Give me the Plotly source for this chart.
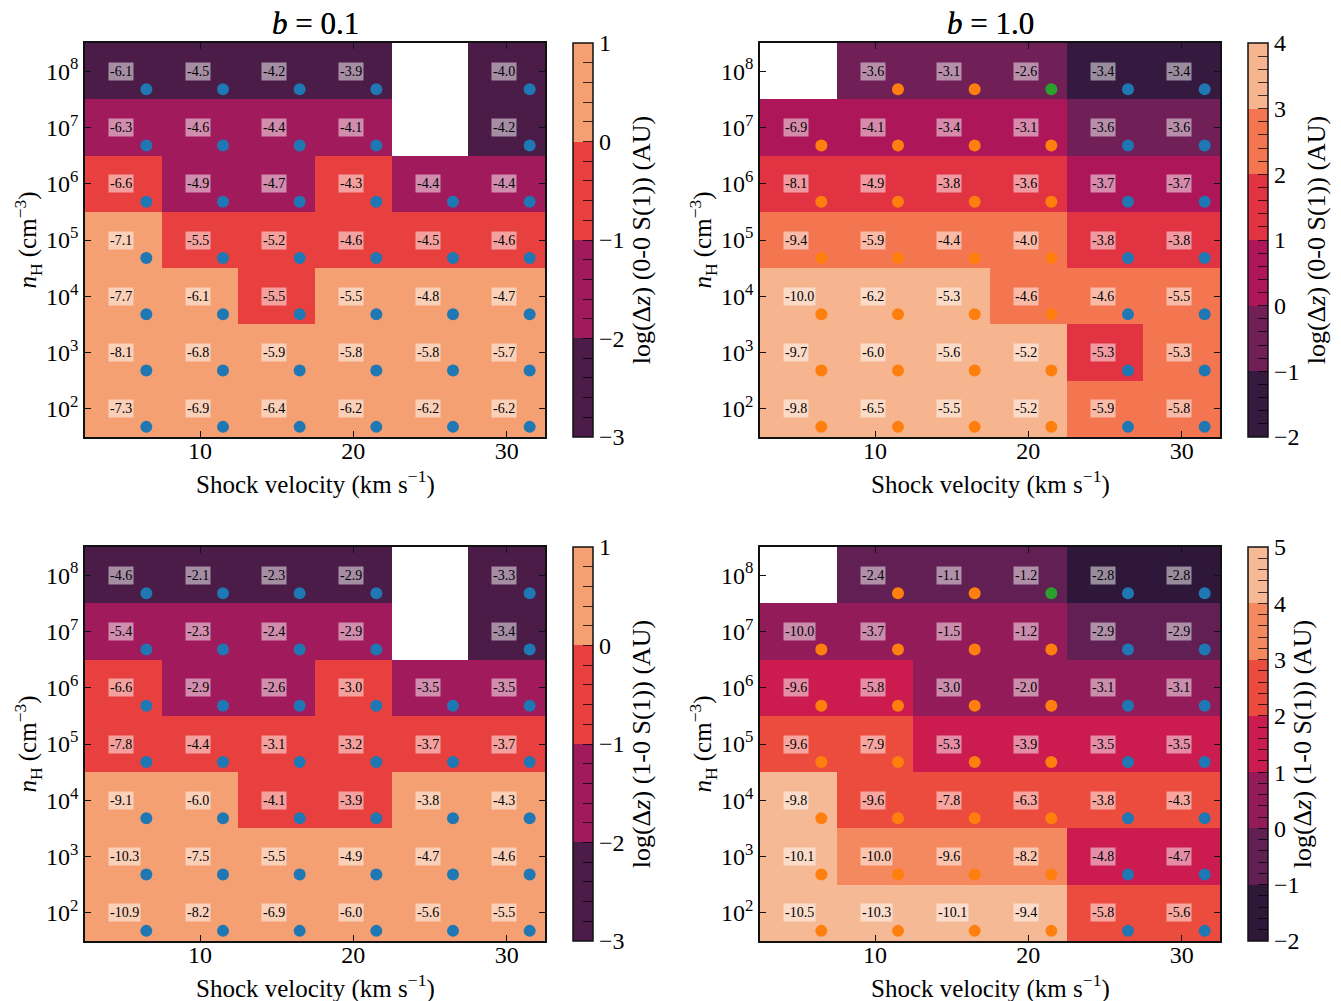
import numpy as np
import plotly.graph_objects as go

W, H = 1341, 1001

# ---------------- data ----------------
velocities = [5, 10, 15, 20, 25, 30]              # km/s (cell centres)
log_nH = [8, 7, 6, 5, 4, 3, 2]                    # rows, top to bottom
x_ticks = [10, 20, 30]
y_tick_labels = ["10<sup>%d</sup>" % k for k in log_nH]

# annotation values (rows top->bottom: nH=1e8 ... 1e2)
ann_00_b01 = [
    [-6.1, -4.5, -4.2, -3.9, None, -4.0],
    [-6.3, -4.6, -4.4, -4.1, None, -4.2],
    [-6.6, -4.9, -4.7, -4.3, -4.4, -4.4],
    [-7.1, -5.5, -5.2, -4.6, -4.5, -4.6],
    [-7.7, -6.1, -5.5, -5.5, -4.8, -4.7],
    [-8.1, -6.8, -5.9, -5.8, -5.8, -5.7],
    [-7.3, -6.9, -6.4, -6.2, -6.2, -6.2],
]
ann_00_b10 = [
    [None, -3.6, -3.1, -2.6, -3.4, -3.4],
    [-6.9, -4.1, -3.4, -3.1, -3.6, -3.6],
    [-8.1, -4.9, -3.8, -3.6, -3.7, -3.7],
    [-9.4, -5.9, -4.4, -4.0, -3.8, -3.8],
    [-10.0, -6.2, -5.3, -4.6, -4.6, -5.5],
    [-9.7, -6.0, -5.6, -5.2, -5.3, -5.3],
    [-9.8, -6.5, -5.5, -5.2, -5.9, -5.8],
]
ann_10_b01 = [
    [-4.6, -2.1, -2.3, -2.9, None, -3.3],
    [-5.4, -2.3, -2.4, -2.9, None, -3.4],
    [-6.6, -2.9, -2.6, -3.0, -3.5, -3.5],
    [-7.8, -4.4, -3.1, -3.2, -3.7, -3.7],
    [-9.1, -6.0, -4.1, -3.9, -3.8, -4.3],
    [-10.3, -7.5, -5.5, -4.9, -4.7, -4.6],
    [-10.9, -8.2, -6.9, -6.0, -5.6, -5.5],
]
ann_10_b10 = [
    [None, -2.4, -1.1, -1.2, -2.8, -2.8],
    [-10.0, -3.7, -1.5, -1.2, -2.9, -2.9],
    [-9.6, -5.8, -3.0, -2.0, -3.1, -3.1],
    [-9.6, -7.9, -5.3, -3.9, -3.5, -3.5],
    [-9.8, -9.6, -7.8, -6.3, -3.8, -4.3],
    [-10.1, -10.0, -9.6, -8.2, -4.8, -4.7],
    [-10.5, -10.3, -10.1, -9.4, -5.8, -5.6],
]

# log(dz) colour values (binned)
dz_00_b01 = [
    [-2.5, -2.5, -2.5, -2.5, None, -2.5],
    [-1.5, -1.5, -1.5, -1.5, None, -2.5],
    [-0.5, -1.5, -1.5, -0.5, -1.5, -1.5],
    [0.5, -0.5, -0.5, -0.5, -0.5, -0.5],
    [0.5, 0.5, -0.5, 0.5, 0.5, 0.5],
    [0.5, 0.5, 0.5, 0.5, 0.5, 0.5],
    [0.5, 0.5, 0.5, 0.5, 0.5, 0.5],
]
dz_00_b10 = [
    [None, -0.5, -0.5, -0.5, -1.5, -1.5],
    [0.5, 0.5, 0.5, 0.5, -0.5, -0.5],
    [1.5, 1.5, 1.5, 1.5, 0.5, 0.5],
    [2.5, 2.5, 2.5, 2.5, 1.5, 1.5],
    [3.5, 3.5, 3.5, 2.5, 2.5, 2.5],
    [3.5, 3.5, 3.5, 3.5, 1.5, 2.5],
    [3.5, 3.5, 3.5, 3.5, 2.5, 2.5],
]
dz_10_b01 = [
    [-2.5, -2.5, -2.5, -2.5, None, -2.5],
    [-1.5, -1.5, -1.5, -1.5, None, -2.5],
    [-0.5, -1.5, -1.5, -0.5, -1.5, -1.5],
    [-0.5, -0.5, -0.5, -0.5, -0.5, -0.5],
    [0.5, 0.5, -0.5, -0.5, 0.5, 0.5],
    [0.5, 0.5, 0.5, 0.5, 0.5, 0.5],
    [0.5, 0.5, 0.5, 0.5, 0.5, 0.5],
]
dz_10_b10 = [
    [None, -0.5, -0.5, -0.5, -1.5, -1.5],
    [0.5, 0.5, 0.5, 0.5, -0.5, -0.5],
    [1.5, 1.5, 0.5, 0.5, 0.5, 0.5],
    [2.5, 2.5, 1.5, 1.5, 1.5, 1.5],
    [4.5, 2.5, 2.5, 2.5, 2.5, 2.5],
    [4.5, 3.5, 3.5, 3.5, 1.5, 1.5],
    [4.5, 4.5, 4.5, 4.5, 2.5, 2.5],
]

# marker colour class per cell: 'o' orange, 'b' blue, 'g' green, '' none
mk_b01 = [
    ["b", "b", "b", "b", "", "b"],
    ["b", "b", "b", "b", "", "b"],
] + [["b"] * 6 for _ in range(5)]
mk_b10 = [
    ["", "o", "o", "g", "b", "b"],
] + [["o", "o", "o", "o", "b", "b"] for _ in range(6)]

panels = [
    dict(title="<i>b</i> = 0.1", ann=ann_00_b01, dz=dz_00_b01, mk=mk_b01,
         zr=(-3, 1), cbt="log(Δ<i>z</i>) (0-0 S(1)) (AU)",
         colors=["#4a1c47", "#a11a5b", "#e8403e", "#f4a072"]),
    dict(title="<i>b</i> = 1.0", ann=ann_00_b10, dz=dz_00_b10, mk=mk_b10,
         zr=(-2, 4), cbt="log(Δ<i>z</i>) (0-0 S(1)) (AU)",
         colors=["#35193e", "#701f57", "#ad1759", "#e13342", "#f37651", "#f6b48f"]),
    dict(title="<i>b</i> = 0.1", ann=ann_10_b01, dz=dz_10_b01, mk=mk_b01,
         zr=(-3, 1), cbt="log(Δ<i>z</i>) (1-0 S(1)) (AU)",
         colors=["#4a1c47", "#a11a5b", "#e8403e", "#f4a072"]),
    dict(title="<i>b</i> = 1.0", ann=ann_10_b10, dz=dz_10_b10, mk=mk_b10,
         zr=(-2, 5), cbt="log(Δ<i>z</i>) (1-0 S(1)) (AU)",
         colors=["#2e1739", "#611f53", "#941b59", "#cb1b4f", "#ec4c3e", "#f4885f", "#f6b995"]),
]
marker_colors = {"b": "#1f77b4", "o": "#ff7f0e", "g": "#2ca02c"}
x_title = "Shock velocity (km s<sup>−1</sup>)"
y_title = "<i>n</i><sub>H</sub> (cm<sup>−3</sup>)"

# ---------------- layout geometry (pixels) ----------------
boxes = [  # (left, right, top, bottom)
    (85, 545, 43, 437),
    (760, 1220, 43, 437),
    (85, 545, 547, 941),
    (760, 1220, 547, 941),
]
FONT = "Liberation Serif, Times New Roman, serif"

fig = go.Figure()
annotations = []
layout = {}

for i, (p, (l, r, t, b)) in enumerate(zip(panels, boxes)):
    k = "" if i == 0 else str(i + 1)
    xa, ya = "x" + k, "y" + k
    z0, z1 = p["zr"]
    n = len(p["colors"])
    cs = []
    for j, c in enumerate(p["colors"]):
        cs.append([j / n, c])
        cs.append([(j + 1) / n, c])
    tv = [round(v, 1) for v in np.arange(z0, z1 + 1e-6, 0.2)]
    tt = [("−%d" % abs(round(v)) if v < 0 else "%d" % round(v)) if abs(v - round(v)) < 1e-6 else " " for v in tv]

    z = p["dz"][::-1]
    yv = log_nH[::-1]
    fig.add_trace(go.Heatmap(
        x=velocities, y=yv, z=z, xaxis=xa, yaxis=ya,
        colorscale=cs, zmin=z0, zmax=z1, hoverongaps=False,
        colorbar=dict(
            x=(r + 28) / W, xanchor="left", xpad=0, ypad=0,
            y=1 - (t + b) / 2 / H, yanchor="middle",
            len=(b - t) / H, lenmode="fraction", thickness=20,
            outlinewidth=1.5, outlinecolor="#111",
            tickvals=tv, ticktext=tt, ticks="inside", ticklen=10,
            tickwidth=1, tickcolor="rgba(0,0,0,0.75)",
            tickfont=dict(family=FONT, size=24, color="black"),
            title=dict(text=p["cbt"], side="right",
                       font=dict(family=FONT, size=26, color="black")),
        ),
    ))

    # markers
    mx, my, mc = [], [], []
    for ri, ln in enumerate(log_nH):
        for ci, v in enumerate(velocities):
            m = p["mk"][ri][ci]
            if m:
                mx.append(v + 1.5)
                my.append(ln - 0.32)
                mc.append(marker_colors[m])
    fig.add_trace(go.Scatter(x=mx, y=my, mode="markers", xaxis=xa, yaxis=ya,
                             marker=dict(size=12, color=mc, line=dict(width=0)),
                             showlegend=False, hoverinfo="skip"))

    # text labels
    for ri, ln in enumerate(log_nH):
        for ci, v in enumerate(velocities):
            val = p["ann"][ri][ci]
            if val is None:
                continue
            annotations.append(dict(
                x=v - 1, y=ln, xref=xa, yref=ya, text="%.1f" % val,
                showarrow=False, xanchor="left", yanchor="middle",
                font=dict(family=FONT, size=14, color="black"),
                bgcolor="rgba(255,255,255,0.5)", borderpad=1,
            ))

    # subplot title
    annotations.append(dict(
        x=(l + r) / 2 / W, y=1 - 24 / H, xref="paper", yref="paper",
        text=p["title"], showarrow=False, xanchor="center", yanchor="middle",
        font=dict(family=FONT, size=31, color="black"),
    ))
    # x-axis title
    annotations.append(dict(
        x=(l + r) / 2 / W, y=1 - (b + 45) / H, xref="paper", yref="paper",
        text=x_title, showarrow=False, xanchor="center", yanchor="middle",
        font=dict(family=FONT, size=25, color="black"),
    ))

    axis_common = dict(
        showgrid=False, zeroline=False, showline=True, linecolor="#111",
        linewidth=1.5, mirror="ticks", ticks="inside", ticklen=6,
        tickwidth=1.2, tickcolor="#111",
        tickfont=dict(family=FONT, size=24, color="black"),
    )
    layout["xaxis" + k] = dict(
        axis_common, domain=[l / W, r / W], anchor=ya, range=[2.5, 32.5],
        tickvals=x_ticks, ticktext=[str(v) for v in x_ticks],
        ticklabelstandoff=-9,
    )
    layout["yaxis" + k] = dict(
        axis_common, domain=[1 - b / H, 1 - t / H], anchor=xa, range=[1.5, 8.5],
        tickvals=log_nH, ticktext=y_tick_labels,
        title=dict(text=y_title, standoff=2,
                   font=dict(family=FONT, size=25, color="black")),
    )

fig.update_layout(
    width=W, height=H, margin=dict(l=0, r=0, t=0, b=0),
    paper_bgcolor="white", plot_bgcolor="white", showlegend=False,
    annotations=annotations, **layout,
)
fig.write_html("out.html", config={"displayModeBar": False},
               post_script="document.body.style.margin='0px';document.body.style.overflow='hidden';")
